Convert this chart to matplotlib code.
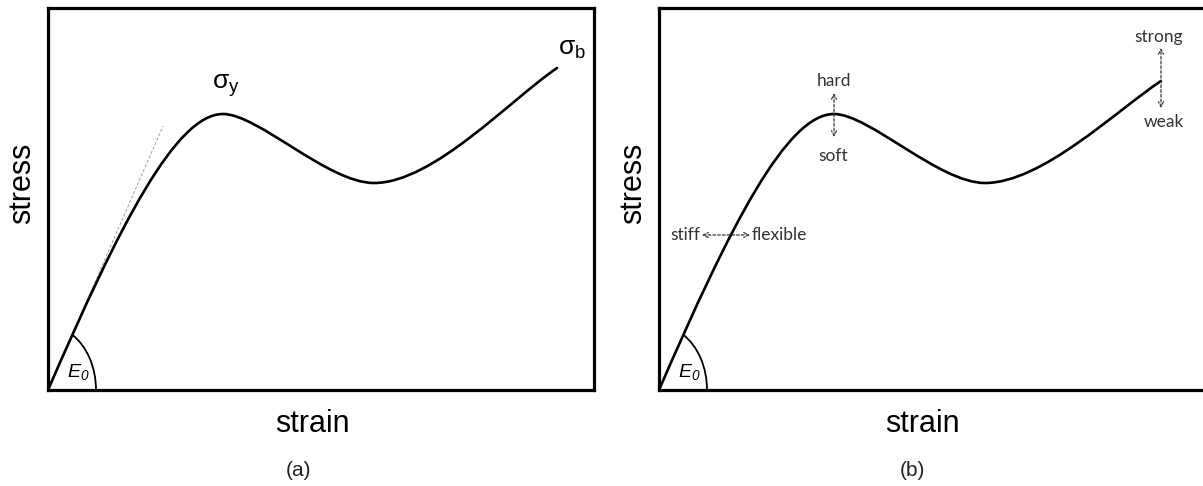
import numpy as np
import matplotlib
matplotlib.use("Agg")
import matplotlib.pyplot as plt
from matplotlib.path import Path
from matplotlib.patches import PathPatch, Arc

plt.rcParams['font.family'] = ['Liberation Sans', 'DejaVu Sans']
plt.rcParams['mathtext.default'] = 'regular'

# ---- curve control points (cubic Bezier, strain vs stress) ----
curve_a_x = [0, 72, 128, 175, 210, 280, 326, 385, 462, 509]
curve_a_y = [0, 166, 276, 276, 276, 207, 207, 207, 290, 322]

curve_b_x = [0, 72, 128, 175, 210, 280, 326, 383, 458, 502]
curve_b_y = [0, 166, 276, 276, 276, 207, 207, 207, 280, 309]

# initial modulus tangent
tangent_x = [0, 115]
tangent_y = [0, 264]
e0_angle = 66.5

# panel (b) property arrows: (x0, y0, x1, y1)
arrow_hard = (175, 253, 175, 297)
arrow_stiff = (43, 155, 91, 155)
arrow_strong = (502, 282, 502, 342)

XMAX, YMAX = 546, 382


def draw_curve(ax, xs, ys):
    codes = [Path.MOVETO] + [Path.CURVE4] * (len(xs) - 1)
    path = Path(np.column_stack([xs, ys]), codes)
    ax.add_patch(PathPatch(path, fill=False, lw=1.9, ec='black',
                           capstyle='round', zorder=3))


def setup(ax):
    ax.set_xlim(0, XMAX)
    ax.set_ylim(0, YMAX)
    ax.set_xticks([])
    ax.set_yticks([])
    for s in ax.spines.values():
        s.set_linewidth(2.3)
        s.set_color('black')
    # E0 arc at the origin
    ax.add_patch(Arc((0, 0), 96, 128, theta1=0, theta2=e0_angle,
                     lw=1.3, color='black', zorder=3))
    ax.text(30, 18, 'E$_0$', fontsize=14, style='italic',
            ha='center', va='center')
    ax.text(-0.048, 0.54, 'stress', transform=ax.transAxes, rotation=90,
            fontsize=22, ha='center', va='center')


def dashed_arrow(ax, a):
    x0, y0, x1, y1 = a
    ax.annotate('', xy=(x1, y1), xytext=(x0, y0),
                arrowprops=dict(arrowstyle='<->,head_length=0.35,head_width=0.18',
                                color='#3c3c3c', lw=0.9, linestyle=(0, (2.2, 1.6)),
                                shrinkA=0, shrinkB=0), zorder=4)


fig = plt.figure(figsize=(12.03, 4.86), dpi=100)
ax1 = fig.add_axes([48 / 1203, 96 / 486, XMAX / 1203, YMAX / 486])
ax2 = fig.add_axes([659 / 1203, 96 / 486, XMAX / 1203, YMAX / 486])

# (a) yield and break
setup(ax1)
ax1.plot(tangent_x, tangent_y, color='#8a9cc6', lw=0.7, ls=(0, (3, 2)), zorder=2)
draw_curve(ax1, curve_a_x, curve_a_y)
ax1.text(178, 304, 'σ$_{y}$', fontsize=19, ha='center', va='center')
ax1.text(524, 341, 'σ$_{b}$', fontsize=19, ha='center', va='center')
ax1.text(0.485, -0.089, 'strain', transform=ax1.transAxes, fontsize=22,
         ha='center', va='center')
ax1.text(0.458, -0.212, '(a)', transform=ax1.transAxes, fontsize=15,
         ha='center', va='center', color='#222222')

# (b) material properties
setup(ax2)
draw_curve(ax2, curve_b_x, curve_b_y)
ann = dict(fontsize=12.5, family=['Lato', 'DejaVu Sans'], color='#333333')
dashed_arrow(ax2, arrow_hard)
ax2.text(175, 309, 'hard', ha='center', va='center', **ann)
ax2.text(174, 234, 'soft', ha='center', va='center', **ann)
dashed_arrow(ax2, arrow_stiff)
ax2.text(41, 155, 'stiff', ha='right', va='center', **ann)
ax2.text(93, 155, 'flexible', ha='left', va='center', **ann)
dashed_arrow(ax2, arrow_strong)
ax2.text(500, 353, 'strong', ha='center', va='center', **ann)
ax2.text(505, 268, 'weak', ha='center', va='center', **ann)
ax2.text(0.482, -0.089, 'strain', transform=ax2.transAxes, fontsize=22,
         ha='center', va='center')
ax2.text(0.4635, -0.212, '(b)', transform=ax2.transAxes, fontsize=15,
         ha='center', va='center', color='#222222')

fig.savefig('out.png', dpi=100)
